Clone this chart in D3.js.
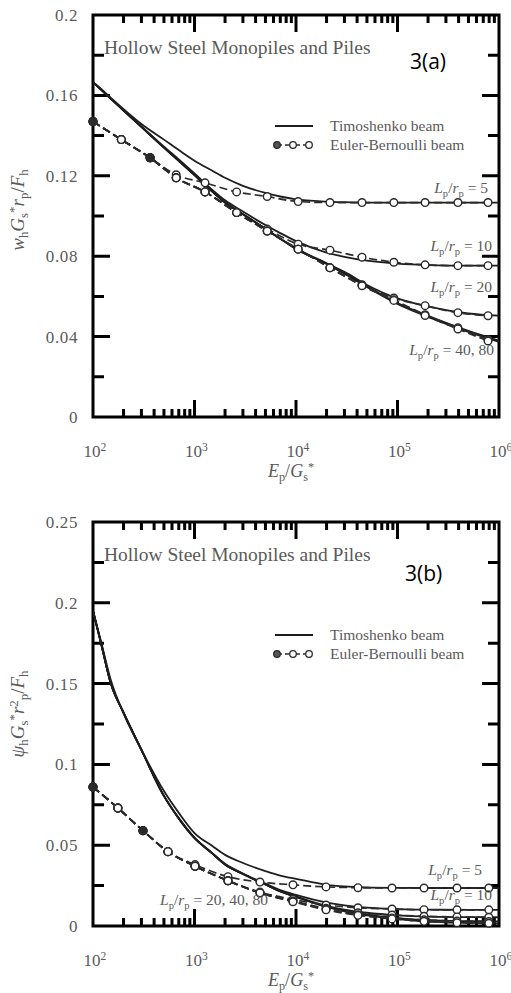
<!DOCTYPE html>
<html><head><meta charset="utf-8">
<script src="https://cdn.jsdelivr.net/npm/d3@7/dist/d3.min.js"></script>
<style>html,body{margin:0;padding:0;background:#fff;}svg{display:block;}</style>
</head><body>
<svg id="chart" width="511" height="993"></svg>
<script>
// ---------------- data ----------------
const seriesLabels = ["5", "10", "20", "40", "80"];
const xMajor = [1e2, 1e3, 1e4, 1e5, 1e6];
const xMajorExp = ["2", "3", "4", "5", "6"];
const yMajorA = [0, 0.04, 0.08, 0.12, 0.16, 0.2];
const yLabelsA = ["0", "0.04", "0.08", "0.12", "0.16", "0.2"];
const yMinorA = [0.02, 0.06, 0.10, 0.14, 0.18];
const yMajorB = [0, 0.05, 0.1, 0.15, 0.2, 0.25];
const yLabelsB = ["0", "0.05", "0.1", "0.15", "0.2", "0.25"];
const yMinorB = [0.025, 0.075, 0.125, 0.175, 0.225];

// Timoshenko beam (solid lines)
const timoX = [100,120,150,200,300,500,700,1000,1500,2000,3000,5000,7000,1e4,2e4,3e4,5e4,1e5,2e5,5e5,1e6];
const timoA5  = [0.1666,0.1632,0.1588,0.1532,0.1458,0.1380,0.1328,0.1275,0.1225,0.1190,0.1150,0.1115,0.1097,0.1083,0.1072,0.1069,0.1067,0.1067,0.1067,0.1067,0.1067];
const timoA10 = [0.1666,0.1630,0.1584,0.1527,0.1446,0.1345,0.1282,0.1212,0.1130,0.1078,0.1022,0.0955,0.0915,0.0875,0.0818,0.0797,0.0778,0.0763,0.0756,0.0753,0.0753];
const timoA20 = [0.1666,0.1629,0.1583,0.1525,0.1443,0.1340,0.1274,0.1204,0.1121,0.1067,0.1009,0.0936,0.0887,0.0840,0.0765,0.0722,0.0657,0.0590,0.0550,0.0515,0.0504];
const timoA40 = [0.1666,0.1629,0.1583,0.1525,0.1443,0.1340,0.1274,0.1204,0.1121,0.1067,0.1009,0.0936,0.0887,0.0836,0.0763,0.0715,0.0650,0.0567,0.0503,0.0428,0.0380];
const timoA80 = [0.1666,0.1629,0.1583,0.1525,0.1443,0.1340,0.1274,0.1204,0.1121,0.1067,0.1009,0.0936,0.0887,0.0836,0.0762,0.0713,0.0647,0.0563,0.0498,0.0423,0.0374];

const timoB5  = [0.195,0.176,0.152,0.1315,0.109,0.0835,0.0700,0.0575,0.0495,0.0440,0.0390,0.0340,0.0312,0.0292,0.0255,0.0245,0.0239,0.0236,0.0235,0.0235,0.0235];
const timoB10 = [0.195,0.175,0.150,0.132,0.109,0.0805,0.0666,0.0545,0.0449,0.0385,0.0325,0.0262,0.0222,0.0192,0.0145,0.0128,0.0114,0.0105,0.0101,0.0100,0.0100];
const timoB20 = [0.195,0.175,0.150,0.132,0.109,0.0805,0.0666,0.0545,0.0449,0.0381,0.0322,0.0257,0.0216,0.0183,0.0125,0.0102,0.0082,0.0066,0.0058,0.0055,0.0054];
const timoB40 = [0.195,0.175,0.150,0.132,0.109,0.0805,0.0666,0.0545,0.0449,0.0381,0.0322,0.0257,0.0214,0.0180,0.0120,0.0094,0.0070,0.0049,0.0036,0.0030,0.0028];
const timoB80 = [0.195,0.175,0.150,0.132,0.109,0.0805,0.0666,0.0545,0.0449,0.0381,0.0322,0.0257,0.0214,0.0180,0.0118,0.0091,0.0066,0.0043,0.0027,0.0019,0.0016];

// Euler-Bernoulli beam (dashed with circles)
const ebXA = [100,190,365,660,1270,2600,5200,10500,21600,44700,92000,187000,394000,780000];
const ebA5  = [0.147,0.138,0.129,0.1205,0.1165,0.1120,0.1097,0.1072,0.1067,0.1067,0.1067,0.1067,0.1067,0.1067];
const ebA10 = [0.147,0.138,0.129,0.119,0.112,0.1017,0.0935,0.0860,0.0830,0.0795,0.0770,0.0757,0.0753,0.0753];
const ebA20 = [0.147,0.138,0.129,0.119,0.112,0.1017,0.0925,0.0835,0.0743,0.0658,0.0592,0.0554,0.0519,0.0504];
const ebA40 = [0.147,0.138,0.129,0.119,0.112,0.1017,0.0925,0.0835,0.0743,0.0655,0.0583,0.0509,0.0444,0.0384];
const ebA80 = [0.147,0.138,0.129,0.119,0.112,0.1017,0.0925,0.0835,0.0742,0.0653,0.0580,0.0505,0.0438,0.0378];

const ebXB = [100,176,311,548,1012,2138,4416,9337,19760,40800,88300,182500,385700,794000];
const ebB5  = [0.086,0.073,0.059,0.046,0.038,0.0305,0.0272,0.0255,0.0242,0.0237,0.0235,0.0235,0.0235,0.0235];
const ebB10 = [0.086,0.073,0.059,0.046,0.037,0.028,0.021,0.0165,0.0130,0.0113,0.0105,0.0101,0.0100,0.0100];
const ebB20 = [0.086,0.073,0.059,0.046,0.037,0.028,0.0205,0.0155,0.0110,0.0082,0.0068,0.0060,0.0056,0.0054];
const ebB40 = [0.086,0.073,0.059,0.046,0.037,0.028,0.0205,0.0152,0.0103,0.0070,0.0050,0.0038,0.0031,0.0028];
const ebB80 = [0.086,0.073,0.059,0.046,0.037,0.028,0.0205,0.0150,0.0100,0.0066,0.0044,0.0029,0.0020,0.0017];
const ebFilled = [0, 2];

// ---------------- drawing ----------------
const svg = d3.select("#chart");
const SERIF = "'Liberation Serif','Times New Roman',serif";
const GREY = "#5a5a5a";
const INK = "#1e1e1e";

function rich(textSel, parts) {
  let cur = 0;
  parts.forEach(p => {
    const target = p.sub ? 4 : (p.sup ? -6 : 0);
    const ts = textSel.append("tspan").text(p.t);
    if (target - cur !== 0) ts.attr("dy", target - cur);
    cur = target;
    if (p.i) ts.attr("font-style", "italic");
    if (p.sub || p.sup) ts.attr("font-size", "0.68em");
  });
}

function panel(cfg) {
  const x = d3.scaleLog().domain([1e2, 1e6]).range([93, 499]);
  const y = d3.scaleLinear().domain(cfg.yDomain).range([cfg.bottom, cfg.top]);
  const L = 93, R = 499, T = cfg.top, B = cfg.bottom;
  const g = svg.append("g");

  const xMinor = [];
  xMajor.slice(0, -1).forEach(d => { for (let k = 2; k <= 9; k++) xMinor.push(d * k); });

  // frame + all tick marks in one path
  const p = d3.path();
  p.moveTo(L, T); p.lineTo(R, T); p.lineTo(R, B); p.lineTo(L, B); p.closePath();
  const addV = (vals, len) => vals.forEach(d => {
    const px = x(d);
    p.moveTo(px, B); p.lineTo(px, B - len);
    p.moveTo(px, T); p.lineTo(px, T + len);
  });
  const addH = (vals, len) => vals.forEach(d => {
    const py = y(d);
    p.moveTo(L, py); p.lineTo(L + len, py);
    p.moveTo(R, py); p.lineTo(R - len, py);
  });
  addV(xMajor, 17); addV(xMinor, 8); addH(cfg.yMajor, 17); addH(cfg.yMinor, 11);
  g.append("path").attr("d", p.toString()).attr("fill", "none").attr("stroke", "#000").attr("stroke-width", 3);

  // y labels via axis (no tick lines)
  const la = g.append("g").attr("transform", `translate(${L},0)`)
    .call(d3.axisLeft(y).tickValues(cfg.yMajor).tickSize(0).tickPadding(15)
      .tickFormat((d, i) => cfg.yLabels[i]));
  la.select(".domain").remove();
  la.selectAll(".tick line").remove();
  la.selectAll("text").attr("font-family", SERIF).attr("font-size", 17).attr("fill", GREY)
    .attr("letter-spacing", 0.6);

  // x tick labels 10^n
  xMajor.forEach((d, i) => {
    const t = g.append("text").attr("x", x(d) + 2).attr("y", B + 40)
      .attr("text-anchor", "middle").attr("font-family", SERIF).attr("font-size", 17).attr("fill", GREY);
    rich(t, [{ t: "10" }, { t: xMajorExp[i], sup: true }]);
  });

  // curves
  const clipId = "clip" + cfg.name;
  svg.append("clipPath").attr("id", clipId).append("rect")
    .attr("x", L).attr("y", T).attr("width", R - L).attr("height", B - T);
  const cg = g.append("g").attr("clip-path", `url(#${clipId})`);
  const line = d3.line().x(d => x(d[0])).y(d => y(d[1])).curve(d3.curveMonotoneX);

  cfg.timo.forEach(arr => {
    cg.append("path").datum(timoX.map((v, i) => [v, arr[i]]))
      .attr("d", line).attr("fill", "none").attr("stroke", INK).attr("stroke-width", 1.8);
  });
  cfg.eb.forEach(arr => {
    const pts = cfg.ebX.map((v, i) => [v, arr[i]]);
    cg.append("path").datum(pts).attr("d", line).attr("fill", "none")
      .attr("stroke", "#2a2a2a").attr("stroke-width", 1.7).attr("stroke-dasharray", "8,4");
  });
  cfg.eb.forEach(arr => {
    const pts = cfg.ebX.map((v, i) => [v, arr[i], i]);
    g.append("g").selectAll("circle").data(pts).join("circle")
      .attr("cx", d => x(d[0])).attr("cy", d => y(d[1])).attr("r", 3.8)
      .attr("fill", d => ebFilled.includes(d[2]) ? "#2a2a2a" : "#fff")
      .attr("stroke", "#2a2a2a").attr("stroke-width", 1.4);
  });

  // title text
  g.append("text").attr("x", 104).attr("y", T + 39).attr("font-family", SERIF)
    .attr("font-size", 19.5).attr("fill", GREY).text("Hollow Steel Monopiles and Piles");
  g.append("text").attr("x", cfg.tagX).attr("y", cfg.tagY).attr("font-family", "'Open Sans','Noto Sans',sans-serif")
    .attr("font-size", 21).attr("fill", "#000").text(cfg.tag);

  // legend
  const ly1 = cfg.legendY, ly2 = cfg.legendY + 19;
  g.append("line").attr("x1", 275).attr("x2", 313).attr("y1", ly1).attr("y2", ly1)
    .attr("stroke", INK).attr("stroke-width", 1.8);
  g.append("line").attr("x1", 276).attr("x2", 310).attr("y1", ly2).attr("y2", ly2)
    .attr("stroke", "#2a2a2a").attr("stroke-width", 1.6).attr("stroke-dasharray", "6,3");
  [277, 293, 309].forEach((cx, i) => {
    g.append("circle").attr("cx", cx).attr("cy", ly2).attr("r", 3.3)
      .attr("fill", i === 0 ? "#555" : "#fff").attr("stroke", "#2a2a2a").attr("stroke-width", 1.3);
  });
  g.append("text").attr("x", 330).attr("y", ly1 + 5).attr("font-family", SERIF).attr("font-size", 15.5)
    .attr("fill", GREY).text("Timoshenko beam");
  g.append("text").attr("x", 330).attr("y", ly2 + 5).attr("font-family", SERIF).attr("font-size", 15.5)
    .attr("fill", GREY).text("Euler-Bernoulli beam");

  // series labels
  cfg.labels.forEach(lb => {
    const t = g.append("text").attr("x", lb.x).attr("y", lb.y).attr("text-anchor", lb.anchor || "end")
      .attr("font-family", SERIF).attr("font-size", 15.5).attr("fill", GREY);
    rich(t, [{ t: "L", i: true }, { t: "p", sub: true }, { t: "/" }, { t: "r", i: true }, { t: "p", sub: true },
      { t: " = " + lb.text }]);
  });

  // axis titles
  const xt = g.append("text").attr("x", 291).attr("y", B + 60).attr("text-anchor", "middle")
    .attr("font-family", SERIF).attr("font-size", 18).attr("fill", GREY);
  rich(xt, [{ t: "E", i: true }, { t: "p", sub: true }, { t: "/" }, { t: "G", i: true }, { t: "s", sub: true }, { t: "*", sup: true }]);
  const yt = g.append("text").attr("transform", `translate(24,${cfg.yTitleY}) rotate(-90)`).attr("text-anchor", "middle")
    .attr("font-family", SERIF).attr("font-size", 19).attr("fill", GREY);
  rich(yt, cfg.yTitle);
}

panel({
  name: "A", yDomain: [0, 0.2], top: 15, bottom: 417,
  yMajor: yMajorA, yLabels: yLabelsA, yMinor: yMinorA,
  timo: [timoA5, timoA10, timoA20, timoA40, timoA80],
  ebX: ebXA, eb: [ebA5, ebA10, ebA20, ebA40, ebA80],
  tag: "3(a)", tagX: 410, tagY: 69, legendY: 126,
  labels: [
    { x: 488, y: 193, text: seriesLabels[0] },
    { x: 492, y: 251, text: seriesLabels[1] },
    { x: 492, y: 292, text: seriesLabels[2] },
    { x: 494, y: 355, text: seriesLabels[3] + ", " + seriesLabels[4] }
  ],
  yTitleY: 210,
  yTitle: [{ t: "w", i: true }, { t: "h", sub: true }, { t: "G", i: true }, { t: "s", sub: true }, { t: "*", sup: true },
    { t: "r", i: true }, { t: "p", sub: true }, { t: "/" }, { t: "F", i: true }, { t: "h", sub: true }]
});

panel({
  name: "B", yDomain: [0, 0.25], top: 522, bottom: 926,
  yMajor: yMajorB, yLabels: yLabelsB, yMinor: yMinorB,
  timo: [timoB5, timoB10, timoB20, timoB40, timoB80],
  ebX: ebXB, eb: [ebB5, ebB10, ebB20, ebB40, ebB80],
  tag: "3(b)", tagX: 405, tagY: 581, legendY: 635,
  labels: [
    { x: 482, y: 875, text: seriesLabels[0] },
    { x: 492, y: 900, text: seriesLabels[1] },
    { x: 160, y: 905, anchor: "start", text: seriesLabels[2] + ", " + seriesLabels[3] + ", " + seriesLabels[4] }
  ],
  yTitleY: 714,
  yTitle: [{ t: "ψ", i: true }, { t: "h", sub: true }, { t: "G", i: true }, { t: "s", sub: true }, { t: "*", sup: true },
    { t: "r", i: true }, { t: "2", sup: true }, { t: "p", sub: true }, { t: "/" }, { t: "F", i: true }, { t: "h", sub: true }]
});
</script>
</body></html>
